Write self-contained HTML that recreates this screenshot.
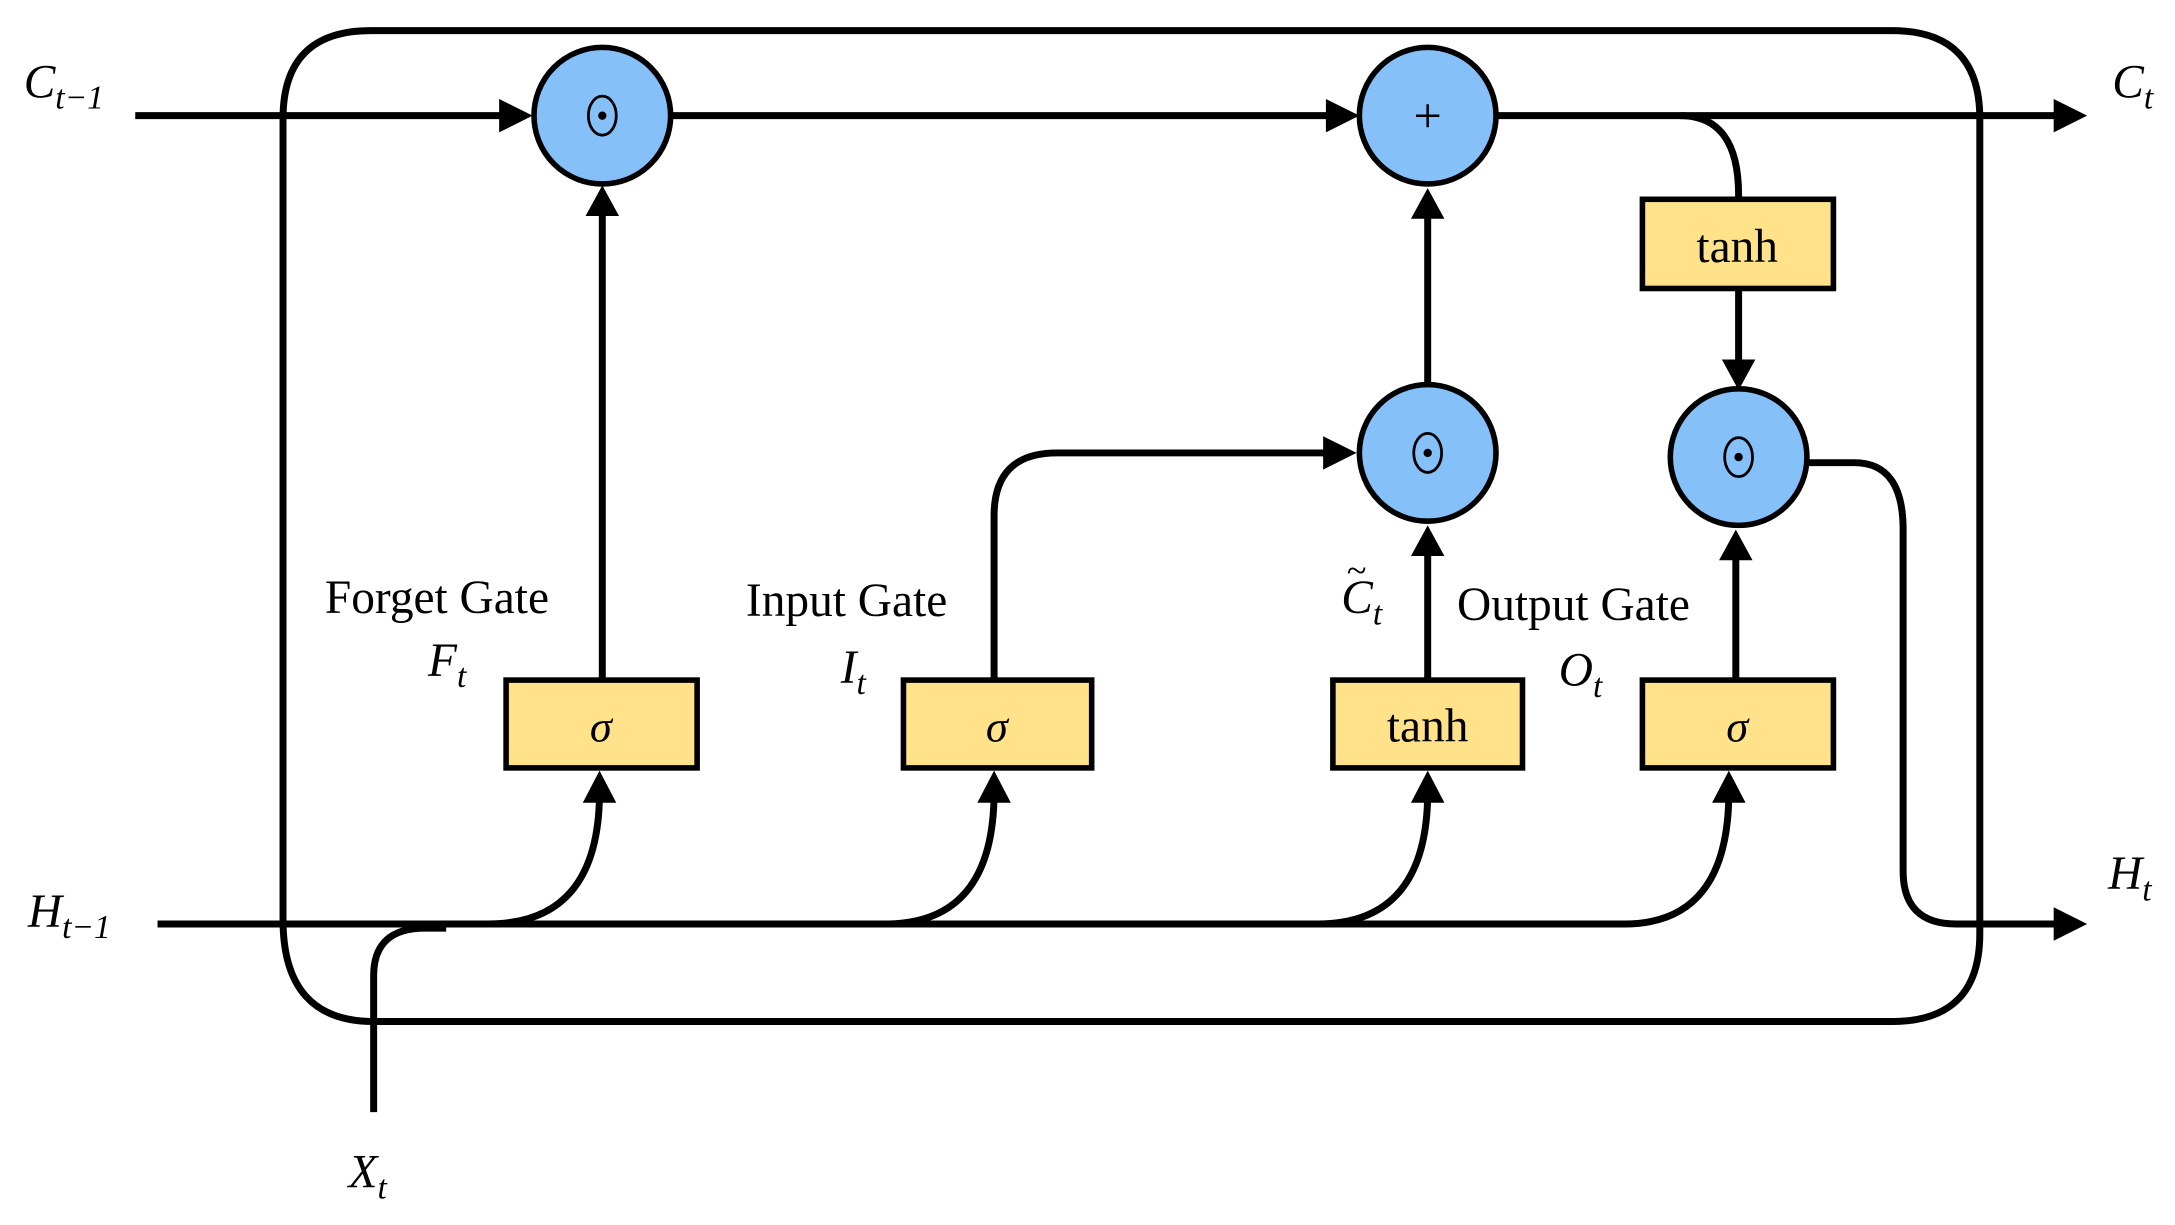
<!DOCTYPE html>
<html><head><meta charset="utf-8"><style>
html,body{margin:0;padding:0;background:#fff;}
svg{display:block;}
text{font-family:"Liberation Serif",serif;fill:#000;}
.it{font-style:italic;}
</style></head><body>
<svg width="2175" height="1225" viewBox="0 0 1560 879" preserveAspectRatio="none" xmlns="http://www.w3.org/2000/svg">
<g fill="none" stroke="#000" stroke-width="5">
<!-- outer box -->
<path d="M203,660 L203,85 Q203,22 266,22 L1357,22 Q1420,22 1420,85 L1420,670 Q1420,733 1357,733 L268,733 Q203,733 203,660 Z"/>
<!-- C line -->
<line x1="97" y1="83" x2="368" y2="83"/>
<line x1="482" y1="83" x2="962" y2="83"/>
<line x1="1074" y1="83" x2="1482" y2="83"/>
<path d="M1205,83 Q1247,83 1247,140 L1247,143"/>
<line x1="1247" y1="207" x2="1247" y2="265"/>
<!-- forget up -->
<line x1="432" y1="488" x2="432" y2="148"/>
<!-- tanh/+ -->
<line x1="1024" y1="276" x2="1024" y2="150"/>
<line x1="1024" y1="488" x2="1024" y2="392"/>
<!-- input gate -->
<path d="M713,488 L713,370 Q713,325 758,325 L958,325"/>
<!-- output -->
<line x1="1245" y1="488" x2="1245" y2="395"/>
<path d="M1297,332 L1330,332 Q1365,332 1365,380 L1365,625 Q1365,663 1403,663 L1482,663"/>
<!-- H line -->
<path d="M113,663 L1165,663 Q1240,663 1240,568"/>
<path d="M350,663 Q430,663 430,568"/>
<path d="M635,663 Q713,663 713,568"/>
<path d="M945,663 Q1024,663 1024,568"/>
<!-- X -->
<path d="M268,798 L268,700 Q268,666 305,666 L320,666"/>
</g>
<g fill="#000">
<polygon points="382,83 358,71 358,95"/>
<polygon points="975,83 951,71 951,95"/>
<polygon points="1497,83 1473,71 1473,95"/>
<polygon points="1497,663 1473,651 1473,675"/>
<polygon points="973,325 949,313 949,337"/>
<polygon points="432,133 420,155 444,155"/>
<polygon points="1024,135 1012,157 1036,157"/>
<polygon points="1024,377 1012,399 1036,399"/>
<polygon points="1245,380 1233,402 1257,402"/>
<polygon points="1247,280 1235,258 1259,258"/>
<polygon points="430,553 418,576 442,576"/>
<polygon points="713,553 701,576 725,576"/>
<polygon points="1024,553 1012,576 1036,576"/>
<polygon points="1240,553 1228,576 1252,576"/>
</g>
<!-- circles -->
<g fill="#85C0F9" stroke="#000" stroke-width="4">
<circle cx="432" cy="83" r="49"/>
<circle cx="1024" cy="83" r="49"/>
<circle cx="1024" cy="325" r="49"/>
<circle cx="1247" cy="328" r="49"/>
</g>
<g fill="none" stroke="#000" stroke-width="2">
<ellipse cx="432" cy="83" rx="10" ry="14"/>
<ellipse cx="1024" cy="325" rx="10" ry="14"/>
<ellipse cx="1247" cy="328" rx="10" ry="14"/>
</g>
<g fill="#000">
<circle cx="432" cy="83" r="3"/><circle cx="1024" cy="325" r="3"/><circle cx="1247" cy="328" r="3"/>
</g>
<text x="1024" y="95" font-size="36" text-anchor="middle">+</text>
<!-- boxes -->
<g fill="#FFE28A" stroke="#000" stroke-width="4">
<rect x="363" y="488" width="137" height="63"/>
<rect x="648" y="488" width="135" height="63"/>
<rect x="956" y="488" width="136" height="63"/>
<rect x="1178" y="488" width="137" height="63"/>
<rect x="1178" y="143" width="137" height="64"/>
</g>
<text x="431" y="532" font-size="32" class="it" text-anchor="middle">σ</text>
<text x="715" y="532" font-size="32" class="it" text-anchor="middle">σ</text>
<text x="1246" y="532" font-size="32" class="it" text-anchor="middle">σ</text>
<text x="1024" y="532" font-size="34" text-anchor="middle">tanh</text>
<text x="1246" y="188" font-size="34" text-anchor="middle">tanh</text>
<!-- labels -->
<text x="233" y="440" font-size="34">Forget Gate</text>
<text x="535" y="442" font-size="34">Input Gate</text>
<text x="1045" y="445" font-size="34">Output Gate</text>
<text x="307" y="485" font-size="34" class="it">F<tspan font-size="24" dy="8">t</tspan></text>
<text x="603" y="490" font-size="34" class="it">I<tspan font-size="24" dy="8">t</tspan></text>
<text x="962" y="440" font-size="34" class="it">C<tspan font-size="24" dy="8">t</tspan></text>
<text x="966" y="418" font-size="26">~</text>
<text x="1118" y="492" font-size="34" class="it">O<tspan font-size="24" dy="8">t</tspan></text>
<text x="17" y="70" font-size="34" class="it">C<tspan font-size="24" dy="8">t−1</tspan></text>
<text x="20" y="665" font-size="34" class="it">H<tspan font-size="24" dy="8">t−1</tspan></text>
<text x="1515" y="70" font-size="34" class="it">C<tspan font-size="24" dy="8">t</tspan></text>
<text x="1512" y="638" font-size="34" class="it">H<tspan font-size="24" dy="8">t</tspan></text>
<text x="250" y="852" font-size="34" class="it">X<tspan font-size="24" dy="8">t</tspan></text>
</svg>
</body></html>
